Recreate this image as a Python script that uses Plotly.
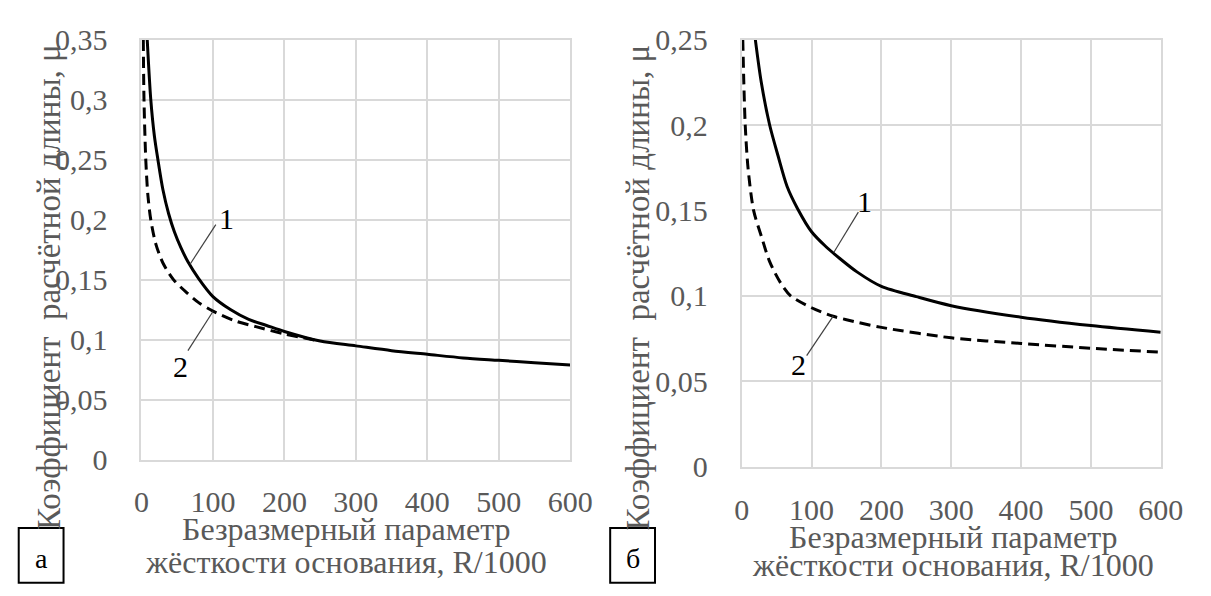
import plotly.graph_objects as go

# ---------- data: panel "а" ----------
a_x1 = [8, 13, 18, 23, 30, 38, 46, 55, 65, 80, 100, 125, 150, 175, 200, 250, 300, 350, 400, 450, 500, 550, 600]
a_mu1 = [0.35, 0.30, 0.27, 0.25, 0.225, 0.205, 0.190, 0.177, 0.165, 0.151, 0.136, 0.125, 0.117, 0.112, 0.107,
         0.099, 0.095, 0.091, 0.088, 0.085, 0.083, 0.081, 0.079]
a_x2 = [2.5, 3.5, 6, 9, 13, 20, 30, 45, 62, 80, 100, 130, 160, 200, 250]
a_mu2 = [0.35, 0.30, 0.25, 0.22, 0.20, 0.18, 0.164, 0.15, 0.14, 0.131, 0.124, 0.116, 0.111, 0.105, 0.099]

# ---------- data: panel "б" ----------
b_x1 = [19.5, 28, 40, 52, 65, 80, 100, 120, 140, 165, 200, 250, 300, 400, 500, 600]
b_mu1 = [0.25, 0.225, 0.20, 0.182, 0.164, 0.151, 0.1375, 0.129, 0.122, 0.114, 0.1055, 0.0995, 0.0942, 0.0875,
         0.0826, 0.0787]
b_x2 = [1.5, 3, 5, 9, 17, 28, 40, 55, 70, 100, 131, 150, 200, 300, 400, 500, 600]
b_mu2 = [0.25, 0.225, 0.20, 0.175, 0.15, 0.135, 0.12, 0.108, 0.10, 0.093, 0.088, 0.086, 0.0815, 0.0754,
         0.0721, 0.0693, 0.067]

# ---------- ticks ----------
x_ticks = [0, 100, 200, 300, 400, 500, 600]
x_ticktext = ["0", "100", "200", "300", "400", "500", "600"]
a_yticks = [0, 0.05, 0.1, 0.15, 0.2, 0.25, 0.3, 0.35]
a_yticktext = ["0", "0,05", "0,1", "0,15", "0,2", "0,25", "0,3", "0,35"]
b_yticks = [0, 0.05, 0.1, 0.15, 0.2, 0.25]
b_yticktext = ["0", "0,05", "0,1", "0,15", "0,2", "0,25"]

y_title = "Коэффициент  расчётной длины, μ"
x_title_l1 = "Безразмерный параметр"
x_title_l2 = "жёсткости основания, R/1000"

# callout labels: (text, text_x, text_y, line_x0, line_y0, line_x1, line_y1)
a_callouts = [("1", 119, 0.201, 104, 0.196, 68, 0.163),
              ("2", 55, 0.078, 65, 0.091, 100, 0.1236)]
b_callouts = [("1", 176, 0.155, 167, 0.149, 132, 0.1255),
              ("2", 81, 0.060, 93, 0.065, 131, 0.0881)]

FONT = "Times New Roman, Liberation Serif, DejaVu Serif, serif"
GRAY = "#595959"
GRID = "#d9d9d9"

W, H = 1211, 596
fig = go.Figure()

dash_style = "11px,6px"
line_solid = dict(color="black", width=3, shape="spline", smoothing=0.8)
line_dash = dict(color="black", width=3, dash=dash_style, shape="spline", smoothing=0.8)
fig.add_trace(go.Scatter(x=a_x1, y=a_mu1, mode="lines", line=line_solid, xaxis="x", yaxis="y", showlegend=False))
fig.add_trace(go.Scatter(x=a_x2, y=a_mu2, mode="lines", line=line_dash, xaxis="x", yaxis="y", showlegend=False))
fig.add_trace(go.Scatter(x=b_x1, y=b_mu1, mode="lines", line=line_solid, xaxis="x2", yaxis="y2", showlegend=False))
fig.add_trace(go.Scatter(x=b_x2, y=b_mu2, mode="lines", line=line_dash, xaxis="x2", yaxis="y2", showlegend=False))

def px_x(p):
    return p / W

def px_y(p):
    return 1 - p / H

axis_common = dict(showgrid=True, gridcolor=GRID, gridwidth=2, showline=True, linecolor=GRID, linewidth=2,
                   zeroline=False, ticks="", tickfont=dict(family=FONT, size=30, color=GRAY), fixedrange=True)

fig.update_layout(
    width=W, height=H,
    margin=dict(l=0, r=0, t=0, b=0),
    paper_bgcolor="white", plot_bgcolor="white",
    font=dict(family=FONT),
    xaxis=dict(domain=[px_x(137), px_x(577)], range=[0, 600], anchor="y", tickvals=x_ticks, ticktext=x_ticktext,
               mirror=True, ticklabelstandoff=14, **axis_common),
    yaxis=dict(domain=[px_y(470), px_y(25)], range=[0, 0.35], anchor="x", tickvals=a_yticks, ticktext=a_yticktext,
               mirror=True, ticklabelstandoff=26, **axis_common),
    xaxis2=dict(domain=[px_x(753), px_x(1183)], range=[0, 600], anchor="y2", tickvals=x_ticks, ticktext=x_ticktext,
                mirror=True, ticklabelstandoff=15, **axis_common),
    yaxis2=dict(domain=[px_y(477), px_y(25)], range=[0, 0.25], anchor="x2", tickvals=b_yticks, ticktext=b_yticktext,
                mirror=True, ticklabelstandoff=26, **axis_common),
)

annotations = []
shapes = []

# axis titles
for cx, cy in [(42, 287), (647, 287)]:
    annotations.append(dict(xref="paper", yref="paper", x=px_x(cx), y=px_y(cy), text=y_title, textangle=-90,
                            showarrow=False, font=dict(family=FONT, size=33, color=GRAY), xanchor="center", yanchor="middle"))
for cx, y1, y2 in [(347, 543, 578), (970, 552, 581)]:
    annotations.append(dict(xref="paper", yref="paper", x=px_x(cx), y=px_y(y1), text=x_title_l1, showarrow=False,
                            font=dict(family=FONT, size=32, color=GRAY), xanchor="center", yanchor="middle"))
    annotations.append(dict(xref="paper", yref="paper", x=px_x(cx), y=px_y(y2), text=x_title_l2, showarrow=False,
                            font=dict(family=FONT, size=32, color=GRAY), xanchor="center", yanchor="middle"))

# callouts
for (xr, yr), callouts in [(("x", "y"), a_callouts), (("x2", "y2"), b_callouts)]:
    for txt, tx, ty, lx0, ly0, lx1, ly1 in callouts:
        annotations.append(dict(xref=xr, yref=yr, x=tx, y=ty, text=txt, showarrow=False,
                                font=dict(family=FONT, size=30, color="black"), xanchor="center", yanchor="middle"))
        shapes.append(dict(type="line", xref=xr, yref=yr, x0=lx0, y0=ly0, x1=lx1, y1=ly1,
                           line=dict(color="#404040", width=1.2)))

# panel letters in boxes
for x0, x1, letter in [(11, 57, "а"), (618, 664, "б")]:
    shapes.append(dict(type="rect", xref="paper", yref="paper", x0=px_x(x0), x1=px_x(x1), y0=px_y(600), y1=px_y(542),
                       line=dict(color="black", width=2), fillcolor="rgba(0,0,0,0)"))
    annotations.append(dict(xref="paper", yref="paper", x=px_x((x0 + x1) / 2), y=px_y(574), text=letter, showarrow=False,
                            font=dict(family=FONT, size=28, color="black"), xanchor="center", yanchor="middle"))

fig.update_layout(annotations=annotations, shapes=shapes)
fig.write_html("out.html", config={"displayModeBar": False})
